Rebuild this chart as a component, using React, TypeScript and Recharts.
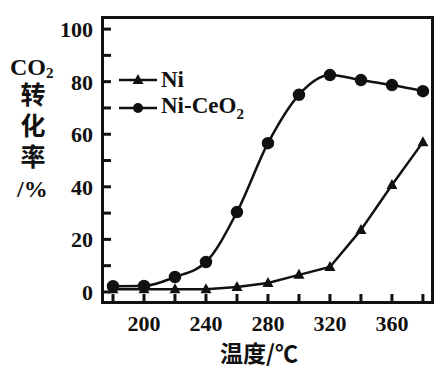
import React from "react";
import { LineChart, Line, XAxis, YAxis } from "recharts";

const temps = [180, 200, 220, 240, 260, 280, 300, 320, 340, 360, 380];
const niValues = [1, 1, 1, 1, 1.9, 3.4, 6.5, 9.5, 23.6, 40.7, 57];
const niCeValues = [2.2, 2.3, 5.7, 11.4, 30.4, 56.6, 75, 82.5, 80.6, 78.7, 76.4];
const xTicks = [180, 200, 220, 240, 260, 280, 300, 320, 340, 360, 380];
const xLabels = [200, 240, 280, 320, 360];
const yTicks = [0, 10, 20, 30, 40, 50, 60, 70, 80, 90, 100];
const yLabels = [0, 20, 40, 60, 80, 100];
const X_DOMAIN = [172.9, 386.5];
const Y_DOMAIN = [-4.2, 104.6];

const data = temps.map((t, i) => ({ t, ni: niValues[i], niCe: niCeValues[i] }));

const NUM_FONT = "'Liberation Serif', 'Times New Roman', serif";
const CJK_FONT = "'Noto Sans CJK SC', sans-serif";

// ticks point inward, so draw line + label by hand
const XTick = (props: any) => {
  const { x, y, payload } = props;
  const v = payload.value;
  return (
    <g>
      <line x1={x} y1={y} x2={x} y2={y - 9} stroke="#111" strokeWidth={3} />
      {xLabels.includes(v) ? (
        <text
          x={x}
          y={y + 28}
          textAnchor="middle"
          fill="#111"
          fontSize={22}
          fontWeight={700}
          fontFamily={NUM_FONT}
        >
          {v}
        </text>
      ) : null}
    </g>
  );
};

const YTick = (props: any) => {
  const { x, y, payload } = props;
  const v = payload.value;
  return (
    <g>
      <line x1={x} y1={y} x2={x + 9} y2={y} stroke="#111" strokeWidth={3} />
      {yLabels.includes(v) ? (
        <text
          x={x - 9}
          y={y + 8}
          textAnchor="end"
          fill="#111"
          fontSize={22}
          fontWeight={700}
          fontFamily={NUM_FONT}
        >
          {v}
        </text>
      ) : null}
    </g>
  );
};

const Triangle = (props: any) => {
  const { cx, cy, index } = props;
  if (cx == null || cy == null) return <g key={index} />;
  return (
    <path
      key={index}
      d={`M${cx},${cy - 6} L${cx + 5.5},${cy + 4} L${cx - 5.5},${cy + 4} Z`}
      fill="#111"
    />
  );
};

const LegendBox = () => (
  <div
    style={{
      position: "absolute",
      left: 119,
      top: 66,
      fontFamily: NUM_FONT,
      fontWeight: 700,
      fontSize: 23,
      color: "#111",
    }}
  >
    <div style={{ display: "flex", alignItems: "center", height: 28 }}>
      <svg width={40} height={16}>
        <line x1={0} y1={8} x2={38} y2={8} stroke="#111" strokeWidth={2.5} />
        <path d="M19,2 L24.5,12 L13.5,12 Z" fill="#111" />
      </svg>
      <span style={{ marginLeft: 2 }}>Ni</span>
    </div>
    <div style={{ display: "flex", alignItems: "center", height: 28 }}>
      <svg width={40} height={16}>
        <line x1={0} y1={8} x2={38} y2={8} stroke="#111" strokeWidth={2.5} />
        <circle cx={19} cy={8} r={5} fill="#111" />
      </svg>
      <span style={{ marginLeft: 2 }}>
        Ni-CeO<sub style={{ fontSize: 15 }}>2</sub>
      </span>
    </div>
  </div>
);

export default function App() {
  return (
    <div style={{ position: "absolute", left: 0, top: 0, width: 440, height: 370, background: "#fff" }}>
      <LineChart width={440} height={370} data={data} margin={{ top: 17, right: 7, left: 0, bottom: 0 }}>
        <XAxis
          dataKey="t"
          type="number"
          domain={X_DOMAIN}
          ticks={xTicks}
          tick={XTick}
          tickSize={0}
          tickMargin={0}
          tickLine={false}
          height={67}
          axisLine={false}
          interval={0}
          allowDataOverflow
        />
        <YAxis
          type="number"
          domain={Y_DOMAIN}
          ticks={yTicks}
          tick={YTick}
          tickSize={0}
          tickMargin={0}
          tickLine={false}
          width={102}
          axisLine={false}
          interval={0}
          allowDataOverflow
        />
        <Line
          dataKey="ni"
          name="Ni"
          stroke="#111"
          strokeWidth={2.5}
          dot={Triangle}
          isAnimationActive={false}
        />
        <Line
          dataKey="niCe"
          name="Ni-CeO2"
          type="monotone"
          stroke="#111"
          strokeWidth={2.5}
          dot={{ r: 5, fill: "#111", stroke: "#111" }}
          isAnimationActive={false}
        />
      </LineChart>
      {/* plot frame */}
      <div
        style={{
          position: "absolute",
          left: 101,
          top: 16,
          width: 333,
          height: 288,
          boxSizing: "border-box",
          border: "3px solid #111",
          pointerEvents: "none",
        }}
      />
      <LegendBox />
      <div
        style={{
          position: "absolute",
          left: 10,
          top: 52,
          fontFamily: NUM_FONT,
          fontSize: 24,
          fontWeight: 700,
          lineHeight: "30px",
          color: "#111",
        }}
      >
        CO<sub style={{ fontSize: 15, verticalAlign: "-3px" }}>2</sub>
      </div>
      <div
        style={{
          position: "absolute",
          left: 20,
          top: 82,
          writingMode: "vertical-rl",
          fontFamily: CJK_FONT,
          fontSize: 25,
          fontWeight: 700,
          letterSpacing: 6,
          lineHeight: "26px",
          color: "#111",
        }}
      >
        转化率
      </div>
      <div
        style={{
          position: "absolute",
          left: 17,
          top: 174,
          fontFamily: NUM_FONT,
          fontSize: 24,
          fontWeight: 700,
          lineHeight: "30px",
          color: "#111",
        }}
      >
        /%
      </div>
      <div
        style={{
          position: "absolute",
          left: 220,
          top: 337,
          fontFamily: CJK_FONT,
          fontWeight: 700,
          fontSize: 23,
          lineHeight: "30px",
          color: "#111",
        }}
      >
        温度/℃
      </div>
    </div>
  );
}
